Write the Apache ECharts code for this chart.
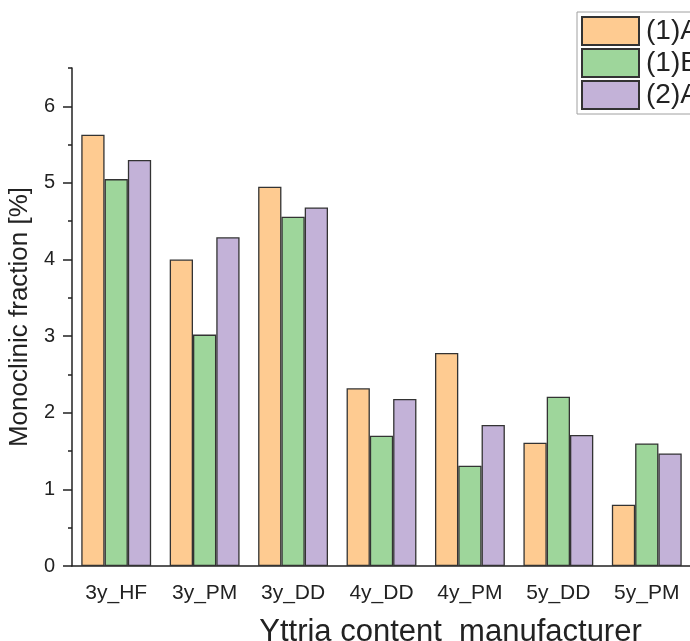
<!DOCTYPE html>
<html>
<head>
<meta charset="utf-8">
<script src="https://cdn.jsdelivr.net/npm/echarts@6/dist/echarts.min.js"></script>
<style>
  html, body { margin: 0; padding: 0; background: #fff; }
  #chart { width: 690px; height: 641px; }
</style>
</head>
<body>
<div id="chart"></div>
<script>
// 数据：从图上读取
const categories = ['3y_HF', '3y_PM', '3y_DD', '4y_DD', '4y_PM', '5y_DD', '5y_PM'];
const series1A = [5.63, 4.00, 4.95, 2.32, 2.78, 1.61, 0.80];
const series1B = [5.05, 3.02, 4.56, 1.70, 1.31, 2.21, 1.60];
const series2A = [5.30, 4.29, 4.68, 2.18, 1.84, 1.71, 1.47];
const seriesNames = ['(1)A', '(1)B', '(2)A'];
const yMajorTicks = [0, 1, 2, 3, 4, 5, 6];
const yMinorTicks = [0.5, 1.5, 2.5, 3.5, 4.5, 5.5, 6.5];

const colors = ['#FECB91', '#9ED69B', '#C3B2D8'];
const font = 'Liberation Sans, Arial, sans-serif';

const chart = echarts.init(document.getElementById('chart'));

function barSeries(name, data, color) {
  return {
    name: name,
    type: 'bar',
    data: data,
    barGap: '0%',
    barCategoryGap: '21%',
    itemStyle: { color: color, borderColor: '#333', borderWidth: 1.3 },
  };
}

chart.setOption({
  backgroundColor: '#fff',
  animation: false,
  textStyle: { fontFamily: font },
  grid: { left: 72, right: -1, top: 68, bottom: 75, containLabel: false, outerBoundsMode: 'none' },
  legend: {
    orient: 'vertical',
    left: 577,
    top: 12,
    padding: [4, 60, 4, 4],
    icon: 'rect',
    itemWidth: 57,
    itemHeight: 28,
    itemGap: 2,
    borderColor: '#a0a0a0',
    borderWidth: 1,
    backgroundColor: '#fff',
    textStyle: { fontSize: 28, lineHeight: 28, color: '#222', fontFamily: font, padding: [0, 0, 0, 2] },
    data: seriesNames,
  },
  xAxis: [
    {
      type: 'category',
      data: categories,
      boundaryGap: true,
      axisLine: { lineStyle: { color: '#222', width: 1.5 } },
      axisTick: { alignWithLabel: true, length: 8, lineStyle: { color: '#222', width: 1.5 } },
      axisLabel: { fontSize: 21, color: '#222', margin: 17 },
      name: 'Yttria content  manufacturer',
      nameLocation: 'middle',
      nameGap: 51,
      nameTextStyle: { fontSize: 31, color: '#222', padding: [0, 0, 0, 138] },
    },
    {
      type: 'category',
      data: categories,
      position: 'bottom',
      boundaryGap: true,
      axisLine: { show: false },
      axisTick: { length: 4, lineStyle: { color: '#222', width: 1.5 } },
      axisLabel: { show: false },
    },
  ],
  yAxis: [
    {
      type: 'value',
      min: 0,
      max: 6.5,
      splitLine: { show: false },
      axisLine: { show: true, lineStyle: { color: '#222', width: 1.5 } },
      axisTick: { show: true, length: 9, customValues: yMajorTicks, lineStyle: { color: '#222', width: 1.5 } },
      axisLabel: { fontSize: 20, color: '#222', margin: 17, customValues: yMajorTicks },
      name: 'Monoclinic fraction [%]',
      nameLocation: 'middle',
      nameGap: 35,
      nameTextStyle: { fontSize: 26, color: '#222' },
    },
    {
      type: 'value',
      min: 0,
      max: 6.5,
      position: 'left',
      splitLine: { show: false },
      axisLine: { show: false },
      axisTick: { show: true, length: 4, customValues: yMinorTicks, lineStyle: { color: '#222', width: 1.5 } },
      axisLabel: { show: false },
    },
  ],
  series: [
    barSeries(seriesNames[0], series1A, colors[0]),
    barSeries(seriesNames[1], series1B, colors[1]),
    barSeries(seriesNames[2], series2A, colors[2]),
  ],
});
</script>
</body>
</html>
